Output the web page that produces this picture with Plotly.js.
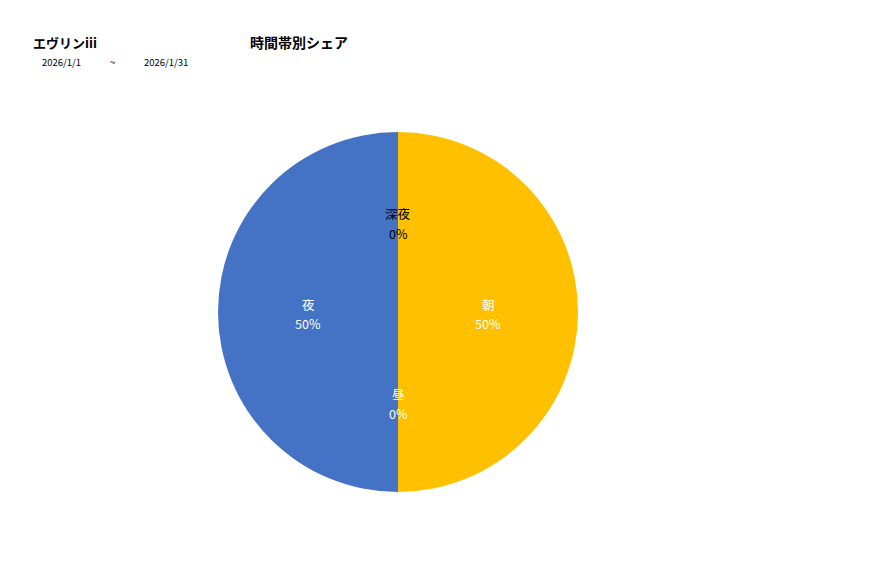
<!DOCTYPE html>
<html>
<head>
<meta charset="utf-8">
<script src="https://cdn.plot.ly/plotly-3.0.1.min.js"></script>
<style>
  html, body { margin: 0; padding: 0; background: #fff; }
  #chart { width: 877px; height: 578px; }
</style>
</head>
<body>
<div id="chart"></div>
<script>
// 時間帯別シェア
var labels = ["朝", "昼", "夜", "深夜"];
var values = [1, 0, 1, 0];
var colors = ["#FFC000", "#A5A5A5", "#4472C4", "#ED7D31"];
var textColors = ["#ffffff", "#ffffff", "#ffffff", "#000000"];

var storeName = "エヴリンiii";
var chartTitle = "時間帯別シェア";
var dateFrom = "2026/1/1";
var dateTo = "2026/1/31";

var font = '"Noto Sans CJK JP", "Noto Sans", sans-serif';
var W = 877, H = 578;
var dom = { x: [218 / W, 578 / W], y: [86 / H, 446 / H] };

var trace = {
  type: "pie",
  labels: labels,
  values: values,
  sort: false,
  direction: "clockwise",
  rotation: 0,
  marker: { colors: colors, line: { color: "#ffffff", width: 0 } },
  textinfo: "none",
  hoverinfo: "label+percent",
  domain: dom
};

// data labels like Excel: name and share on two lines at half radius,
// along each slice's middle angle (plotly drops text of empty slices)
var total = values.reduce(function (a, b) { return a + b; }, 0);
var cx = (dom.x[0] + dom.x[1]) / 2 * W, cy = (1 - (dom.y[0] + dom.y[1]) / 2) * H;
var rad = Math.min((dom.x[1] - dom.x[0]) * W, (dom.y[1] - dom.y[0]) * H) / 2;
var sliceNotes = [];
var cum = 0;
for (var i = 0; i < values.length; i++) {
  var mid = (cum + values[i] / 2) / total * 2 * Math.PI;
  cum += values[i];
  var px = cx + Math.sin(mid) * rad * 0.5;
  var py = cy - Math.cos(mid) * rad * 0.5 + 2;
  var pct = Math.round(values[i] / total * 100) + "%";
  [[labels[i], py - 10], [pct, py + 10]].forEach(function (t) {
    sliceNotes.push({
      text: t[0], x: px / W, y: 1 - t[1] / H, xref: "paper", yref: "paper",
      xanchor: "center", yanchor: "middle", showarrow: false,
      font: { size: 12.5, color: textColors[i] }
    });
  });
}

var layout = {
  width: W,
  height: H,
  margin: { l: 0, r: 0, t: 0, b: 0 },
  paper_bgcolor: "#ffffff",
  showlegend: false,
  font: { family: font, color: "#000000" },
  annotations: [
    { text: "<b>" + storeName + "</b>", x: 31 / W, y: 1 - 42 / H, xref: "paper", yref: "paper",
      xanchor: "left", yanchor: "middle", showarrow: false, font: { size: 13 } },
    { text: "<b>" + chartTitle + "</b>", x: 248 / W, y: 1 - 42 / H, xref: "paper", yref: "paper",
      xanchor: "left", yanchor: "middle", showarrow: false, font: { size: 14 } },
    { text: dateFrom, x: 40 / W, y: 1 - 62 / H, xref: "paper", yref: "paper",
      xanchor: "left", yanchor: "middle", showarrow: false, font: { size: 9.5 } },
    { text: "~", x: 108 / W, y: 1 - 62 / H, xref: "paper", yref: "paper",
      xanchor: "left", yanchor: "middle", showarrow: false, font: { size: 9.5 } },
    { text: dateTo, x: 142 / W, y: 1 - 62 / H, xref: "paper", yref: "paper",
      xanchor: "left", yanchor: "middle", showarrow: false, font: { size: 9.5 } }
  ].concat(sliceNotes)
};

Plotly.newPlot("chart", [trace], layout, { displayModeBar: false, staticPlot: true });
</script>
</body>
</html>
